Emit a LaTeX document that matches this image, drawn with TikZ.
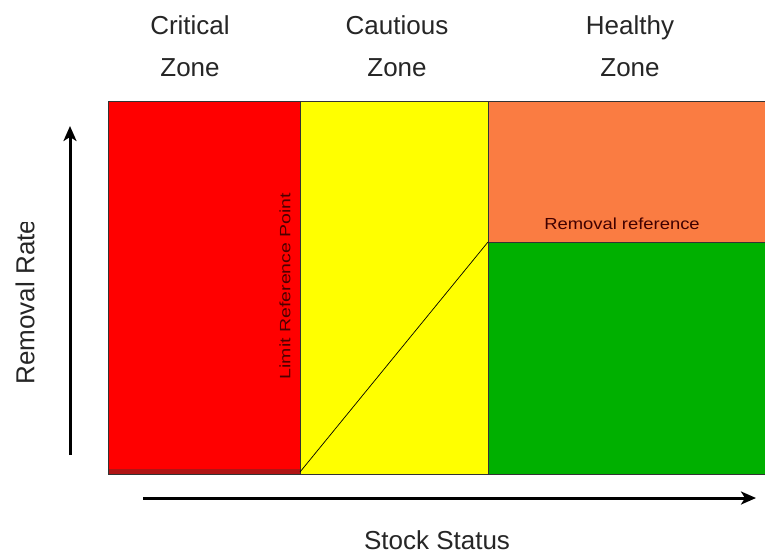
\documentclass[tikz,border=0pt]{standalone}
\usepackage{fontspec}
\setmainfont{Liberation Sans}
\usetikzlibrary{arrows.meta}
\definecolor{zred}{HTML}{FF0000}
\definecolor{zyel}{HTML}{FFFF00}
\definecolor{zora}{HTML}{FA7C42}
\definecolor{zgrn}{HTML}{00B000}
\definecolor{zdark}{HTML}{B01515}
\begin{document}
\begin{tikzpicture}[x=1pt,y=-1pt,
  zonebox/.style={draw=black!80, line width=0.8pt},
  title/.style={font=\fontsize{26}{42}\selectfont, align=center, text=black!85},
  axis/.style={line width=3pt, -{Stealth[length=15pt,width=13pt,inset=4pt]}}]
\useasboundingbox (0,0) rectangle (765,557);
\fill[white] (0,0) rectangle (765,557);
% zones
\path[zonebox, fill=zred] (108,101) rectangle (300,474);
\fill[zdark] (109,469) rectangle (300,474);
\path[zonebox, fill=zyel] (300,101) rectangle (488,474);
\path[zonebox, fill=zora] (488,101) rectangle (766,242);
\path[zonebox, fill=zgrn] (488,242) rectangle (766,474);
\coordinate (d0) at (300,472);
\coordinate (d1) at (488,242);
\draw[black, line width=0.7pt] (d0) -- (d1);
% titles
\node[title] (t1) at (190,46) {Critical\\Zone};
\node[title] (t2) at (397,46) {Cautious\\Zone};
\node[title] (t3) at (630,46) {Healthy\\Zone};
% labels
\node[rotate=90, xscale=1.3, font=\fontsize{15}{16}\selectfont, text=black!70!red] (lrp) at (285,286) {Limit Reference Point};
\node[xscale=1.15, font=\fontsize{16}{17}\selectfont, text=black!75!red] (rr) at (622,224) {Removal reference};
% axes
\coordinate (ya) at (70,455);
\coordinate (yb) at (70,126);
\draw[axis] (ya) -- (yb);
\coordinate (xa) at (143,498);
\coordinate (xb) at (756,498);
\draw[axis] (xa) -- (xb);
\begin{scope}
\clip (0,222) rectangle (60,400);
\node[rotate=90, font=\fontsize{26}{28}\selectfont, text=black!85] (yl) at (25,302) {Removal Rate};
\end{scope}
\node[font=\fontsize{26}{28}\selectfont, text=black!85] (xl) at (437,540) {Stock Status};
\end{tikzpicture}
\end{document}
